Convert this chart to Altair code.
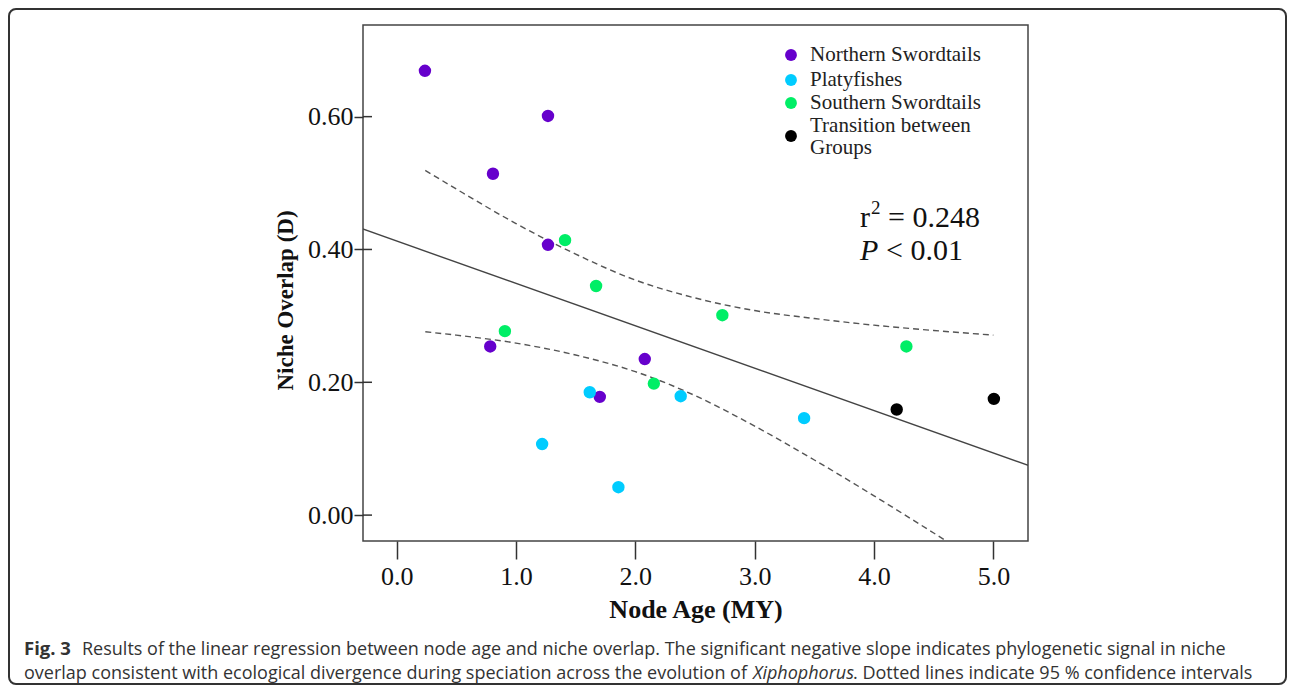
import altair as alt
import pandas as pd

# ---------------- data ----------------
groups = ["Northern Swordtails", "Platyfishes", "Southern Swordtails", "Transition between Groups"]
colors = ["#6600CC", "#00CCFF", "#00EE66", "#000000"]

north_x = [0.237, 1.268, 0.807, 1.268, 0.784, 2.079, 1.702]
north_y = [0.669, 0.601, 0.514, 0.407, 0.254, 0.235, 0.178]
platy_x = [1.618, 2.380, 1.219, 1.858, 3.414]
platy_y = [0.185, 0.179, 0.107, 0.042, 0.146]
south_x = [1.411, 1.671, 0.907, 2.729, 2.155, 4.271]
south_y = [0.414, 0.345, 0.277, 0.301, 0.198, 0.254]
trans_x = [4.190, 5.004]
trans_y = [0.159, 0.175]

# 95% confidence band (dotted lines)
ci_x = [0.24, 0.5, 1.0, 1.5, 2.0, 2.5, 3.0, 3.5, 4.0, 4.5, 5.0]
ci_upper = [0.519, 0.491, 0.439, 0.393, 0.354, 0.327, 0.308, 0.296, 0.286, 0.278, 0.271]
ci_lower = [0.276, 0.271, 0.259, 0.241, 0.216, 0.180, 0.134, 0.083, 0.029, -0.027, -0.084]

x_ticks = [0, 1, 2, 3, 4, 5]
y_ticks = [0.0, 0.2, 0.4, 0.6]

x_title = "Node Age (MY)"
y_title = "Niche Overlap (D)"
stat_r = "r"
stat_sq = "2"
stat_r2_rest = "= 0.248"
stat_p = "P"
stat_p_rest = "< 0.01"
cap_fig = "Fig. 3"
cap_l1 = "Results of the linear regression between node age and niche overlap. The significant negative slope indicates phylogenetic signal in niche"
cap_l2a = "overlap consistent with ecological divergence during speciation across the evolution of"
cap_l2b = "Xiphophorus"
cap_l2c = ". Dotted lines indicate 95 % confidence intervals"

# ---------------- tables ----------------
pts = pd.DataFrame({
    "x": north_x + platy_x + south_x + trans_x,
    "y": north_y + platy_y + south_y + trans_y,
    "group": [groups[0]] * len(north_x) + [groups[1]] * len(platy_x)
             + [groups[2]] * len(south_x) + [groups[3]] * len(trans_x),
})
ci = pd.DataFrame({
    "x": ci_x + ci_x,
    "y": ci_upper + ci_lower,
    "band": ["upper"] * len(ci_x) + ["lower"] * len(ci_x),
})
ticks_df = pd.DataFrame({"y": y_ticks})
one = pd.DataFrame({"a": [0]})

SERIF = "Liberation Serif"
x_scale = alt.Scale(domain=[-0.282, 5.29], nice=False, zero=False)
y_scale = alt.Scale(domain=[-0.039, 0.738], nice=False, zero=False)

x_axis = alt.Axis(values=x_ticks, format=".1f", tickSize=18, tickWidth=1.5, tickColor="#333",
                  domain=False, grid=False, labelFont=SERIF, labelFontSize=26, labelColor="#111",
                  labelPadding=4, titleFont=SERIF, titleFontSize=26, titleFontWeight="bold",
                  titleColor="#111", titleBaseline="alphabetic", titleY=76)
y_axis = alt.Axis(values=y_ticks, format=".2f", tickSize=9, tickWidth=1.5, tickColor="#333",
                  domain=False, grid=False, labelFont=SERIF, labelFontSize=26, labelColor="#111",
                  labelPadding=1, titleFont=SERIF, titleFontSize=23, titleFontWeight="bold",
                  titleColor="#111", titleAngle=-90, titleBaseline="middle", titleAlign="center",
                  titleX=-78, titleY=275)

X = alt.X("x:Q", scale=x_scale, axis=x_axis, title=x_title)
Y = alt.Y("y:Q", scale=y_scale, axis=y_axis, title=y_title)

frame = alt.Chart(one).mark_rect(filled=False, stroke="#333", strokeWidth=2, cornerRadius=7).encode(
    x=alt.value(-354), x2=alt.value(923), y=alt.value(-16), y2=alt.value(659)
)

inner_ticks = alt.Chart(ticks_df).mark_rule(color="#333", strokeWidth=1.5).encode(
    y=Y, x=alt.value(0), x2=alt.value(9)
)

band = alt.Chart(ci).mark_line(clip=True, color="#555", strokeWidth=1.4, strokeDash=[6, 4],
                               interpolate="monotone").encode(
    x=X, y=Y, detail="band:N"
)

reg = alt.Chart(pts).transform_regression("x", "y", extent=[-0.5, 5.5]).mark_line(
    clip=True, color="#444", strokeWidth=1.4
).encode(x=X, y=Y)

points = alt.Chart(pts).mark_circle(size=154, opacity=1).encode(
    x=X, y=Y,
    color=alt.Color("group:N", scale=alt.Scale(domain=groups, range=colors), legend=None),
)


def label(text, x, y, size, font=SERIF, style="normal", weight="normal", color="#111",
          baseline="alphabetic"):
    return alt.Chart(one).mark_text(text=text, font=font, fontSize=size, fontStyle=style,
                                    fontWeight=weight, color=color, align="left",
                                    baseline=baseline).encode(x=alt.value(x), y=alt.value(y))


# ---------------- legend (inside plot, top right) ----------------
leg_sym_x = 428
leg_txt_x = 447
leg_sym_y = [30, 55, 78, 111]
LEG_FS = 21
leg_layers = []
for g, c, sy in zip(groups, colors, leg_sym_y):
    leg_layers.append(
        alt.Chart(one).mark_circle(size=140, opacity=1, color=c).encode(
            x=alt.value(leg_sym_x), y=alt.value(sy))
    )
leg_layers.append(label(groups[0], leg_txt_x, 30, LEG_FS, color="#222", baseline="middle"))
leg_layers.append(label(groups[1], leg_txt_x, 55, LEG_FS, color="#222", baseline="middle"))
leg_layers.append(label(groups[2], leg_txt_x, 78, LEG_FS, color="#222", baseline="middle"))
t_first, t_last = groups[3].rsplit(" ", 1)
leg_layers.append(label(t_first, leg_txt_x, 101, LEG_FS, color="#222", baseline="middle"))
leg_layers.append(label(t_last, leg_txt_x, 123, LEG_FS, color="#222", baseline="middle"))

CAP = "Open Sans"
texts = [
    label(stat_r, 497, 202, 30),
    label(stat_sq, 508, 189, 19),
    label(stat_r2_rest, 525, 202, 30),
    label(stat_p, 497, 235, 30, style="italic"),
    label(stat_p_rest, 523, 235, 30),
    label(cap_fig, -339, 630, 18.5, font=CAP, weight="bold", color="#333"),
    label(cap_l1, -281, 630, 18, font=CAP, color="#333"),
    label(cap_l2a, -339, 654, 18, font=CAP, color="#333"),
    label(cap_l2b, 390, 654, 18, font=CAP, style="italic", color="#333"),
    label(cap_l2c, 490, 654, 18, font=CAP, color="#333"),
]

chart = alt.layer(frame, inner_ticks, band, reg, points, *leg_layers, *texts).properties(
    width=665, height=516, padding=0, background="white"
).configure_view(stroke="#444", strokeWidth=1.5)

chart.save("out.html", embed_options={"renderer": "svg", "actions": False})
